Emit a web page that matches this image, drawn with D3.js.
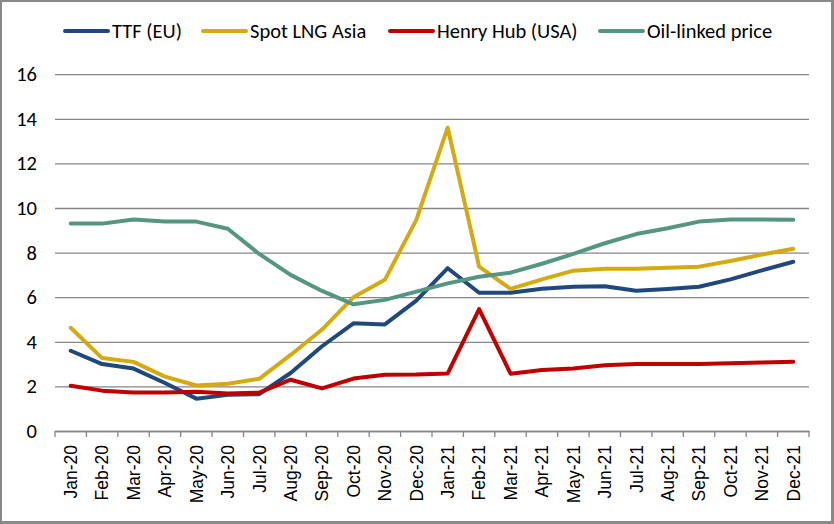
<!DOCTYPE html>
<html><head><meta charset="utf-8">
<script src="https://cdn.jsdelivr.net/npm/d3@7"></script>
<style>html,body{margin:0;padding:0;background:#fff;}svg{display:block;}</style>
</head><body>
<svg id="c" width="834" height="524"></svg>
<script>
const months = ["Jan-20","Feb-20","Mar-20","Apr-20","May-20","Jun-20","Jul-20","Aug-20","Sep-20","Oct-20","Nov-20","Dec-20",
  "Jan-21","Feb-21","Mar-21","Apr-21","May-21","Jun-21","Jul-21","Aug-21","Sep-21","Oct-21","Nov-21","Dec-21"];
const ttf    = [3.6,3.0,2.8,2.15,1.45,1.62,1.65,2.6,3.8,4.83,4.78,5.85,7.3,6.2,6.2,6.38,6.47,6.49,6.29,6.37,6.47,6.8,7.2,7.59];
const lngAsia= [4.63,3.27,3.1,2.44,2.04,2.12,2.34,3.41,4.55,6.0,6.78,9.47,13.6,7.37,6.37,6.8,7.19,7.28,7.28,7.32,7.37,7.62,7.91,8.17];
const henry  = [2.03,1.81,1.73,1.73,1.76,1.68,1.72,2.3,1.91,2.35,2.52,2.53,2.58,5.47,2.57,2.74,2.8,2.95,3.0,3.0,3.0,3.04,3.07,3.11];
const oil    = [9.3,9.3,9.48,9.39,9.39,9.07,7.94,7.0,6.28,5.68,5.88,6.25,6.62,6.92,7.1,7.5,7.94,8.42,8.83,9.09,9.39,9.48,9.48,9.47];
const yTicks = [0,2,4,6,8,10,12,14,16];
const seriesNames = ["TTF (EU)","Spot LNG Asia","Henry Hub (USA)","Oil-linked price"];
const seriesColors = ["#1f497d","#d4aa10","#c00000","#559682"];
const seriesData = [ttf, lngAsia, henry, oil];

(function(){
const svg = d3.select("#c");
const mL = 55, mR = 809, mT = 74.2, mB = 431;
const x = d3.scaleBand().domain(months).range([mL, mR]);
const y = d3.scaleLinear().domain([0,16]).range([mB, mT]);
const uiFont = "Carlito, Calibri, 'Liberation Sans Narrow', 'Open Sans', sans-serif";

// border
svg.append("rect").attr("x",0).attr("y",0).attr("width",834).attr("height",2).attr("fill","#888");
svg.append("rect").attr("x",0).attr("y",0).attr("width",2).attr("height",524).attr("fill","#888");
svg.append("rect").attr("x",831).attr("y",0).attr("width",3).attr("height",524).attr("fill","#888");
svg.append("rect").attr("x",0).attr("y",521).attr("width",834).attr("height",3).attr("fill","#888");

// gridlines & y labels
const yAxis = d3.axisLeft(y).tickValues(yTicks).tickSize(-(mR-mL)).tickPadding(18);
const gy = svg.append("g").attr("transform",`translate(${mL},0)`).call(yAxis);
gy.select(".domain").remove();
gy.selectAll(".tick line").attr("stroke","#868686").attr("stroke-width",1.3);
gy.selectAll(".tick text").attr("font-family",uiFont)
  .attr("font-size",20.5).attr("fill","#000").attr("x",-18);

// x axis
const xAxis = d3.axisBottom(x).tickSize(0).tickFormat(d=>d);
const gx = svg.append("g").attr("transform",`translate(0,${mB})`).call(xAxis);
gx.select(".domain").attr("stroke","#868686").attr("stroke-width",1.3);
gx.selectAll(".tick line").remove();
const bounds = months.map(m=>x(m)).concat([mR]);
gx.selectAll("line.bt").data(bounds).enter().append("line").attr("class","bt")
  .attr("x1",d=>d).attr("x2",d=>d).attr("y1",0).attr("y2",6).attr("stroke","#868686").attr("stroke-width",1.3);
gx.selectAll(".tick text")
  .attr("font-family","'Liberation Sans', Arial, sans-serif").attr("font-size",17.5).attr("fill","#000")
  .attr("transform","rotate(-90)").attr("text-anchor","end").attr("x",-14).attr("y",0).attr("dy","0.36em");

// lines
const line = d3.line().x((d,i)=>x(months[i]) + x.bandwidth()/2).y(d=>y(d));
seriesData.forEach((s,k)=>{
  svg.append("path").datum(s).attr("d",line).attr("fill","none")
    .attr("stroke",seriesColors[k]).attr("stroke-width",4).attr("stroke-linejoin","round").attr("stroke-linecap","round");
});

// legend
const legX = [65, 203, 390, 600];
const lg = svg.append("g");
seriesNames.forEach((n,k)=>{
  lg.append("line").attr("x1",legX[k]).attr("x2",legX[k]+43).attr("y1",31).attr("y2",31)
    .attr("stroke",seriesColors[k]).attr("stroke-width",4).attr("stroke-linecap","round");
  lg.append("text").attr("x",legX[k]+47).attr("y",31).attr("dy","0.35em")
    .attr("font-family",uiFont)
    .attr("font-size",20.5).attr("fill","#000").text(n);
});
})();
</script>
</body></html>
